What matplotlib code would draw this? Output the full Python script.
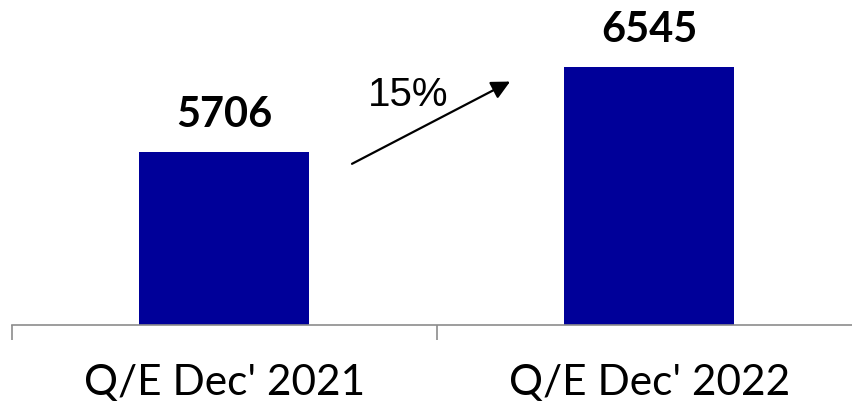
import matplotlib
matplotlib.use("Agg")
import matplotlib.pyplot as plt
from matplotlib.ticker import FixedLocator, NullFormatter, FixedFormatter

categories = ["Q/E Dec' 2021", "Q/E Dec' 2022"]
values = [5706, 6545]
growth_label = "15%"

bar_color = "#000099"
axis_gray = "#8c8c8c"

fig = plt.figure(figsize=(8.53, 4.05), dpi=100)
ax = fig.add_axes([12 / 853, 80 / 405, 850 / 853, 325 / 405])

x = list(range(len(categories)))
ax.bar(x, values, width=0.4, color=bar_color, zorder=2)
ax.set_xlim(-0.5, 1.5)
ax.set_ylim(4000, 7200)

for xi, v in zip(x, values):
    ax.annotate(str(v), xy=(xi, v), xytext=(0, 18), textcoords="offset points",
                ha="center", va="baseline", fontsize=30, fontweight="bold",
                family="Lato", color="black")

# growth arrow
ax.annotate("", xy=(0.672, 6397), xytext=(0.30, 5587),
            arrowprops=dict(arrowstyle="-|>", color="black", lw=1.6,
                            mutation_scale=28, shrinkA=0, shrinkB=0))
ax.text(0.432, 6160, growth_label, ha="center", va="baseline", fontsize=29,
        family="Liberation Sans", color="black")

for s in ["top", "right", "left"]:
    ax.spines[s].set_visible(False)
ax.spines["bottom"].set_color(axis_gray)
ax.spines["bottom"].set_linewidth(1.2)
ax.set_yticks([])

ax.xaxis.set_major_locator(FixedLocator([-0.5, 0.5, 1.5]))
ax.xaxis.set_major_formatter(NullFormatter())
ax.xaxis.set_minor_locator(FixedLocator(x))
ax.xaxis.set_minor_formatter(FixedFormatter(categories))
ax.tick_params(axis="x", which="major", length=11, width=1.2, color=axis_gray, direction="out")
ax.tick_params(axis="x", which="minor", length=0, pad=28, labelsize=30.5)
for lab in ax.get_xticklabels(minor=True):
    lab.set_family("Lato")

fig.savefig("out.png", dpi=100)
